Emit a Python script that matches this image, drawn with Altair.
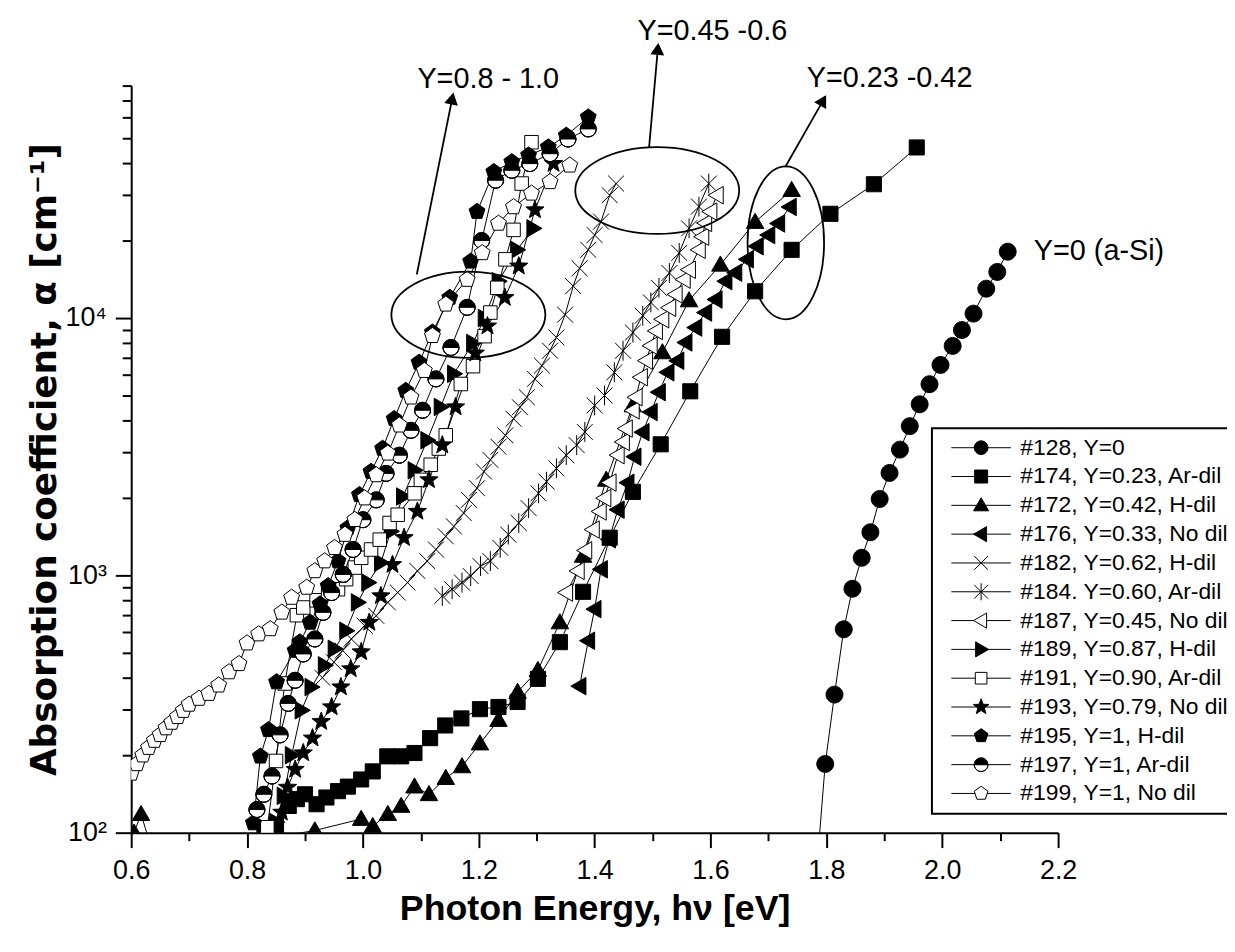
import math
import altair as alt
import pandas as pd

FONT = "Liberation Sans"

# ---------------- data ----------------
LABELS = ["#128, Y=0", "#174, Y=0.23, Ar-dil", "#172, Y=0.42, H-dil", "#176, Y=0.33, No dil",
          "#182, Y=0.62, H-dil", "#184. Y=0.60, Ar-dil", "#187, Y=0.45, No dil",
          "#189, Y=0.87, H-dil", "#191, Y=0.90, Ar-dil", "#193, Y=0.79, No dil",
          "#195, Y=1, H-dil", "#197, Y=1, Ar-dil", "#199, Y=1, No dil"]

E128 = [1.785, 1.798, 1.814, 1.830, 1.845, 1.861, 1.876, 1.892, 1.909, 1.927, 1.944, 1.961, 1.978, 1.997, 2.018, 2.034, 2.054, 2.076, 2.095, 2.113]
A128 = [80, 185, 344, 617, 887, 1170, 1470, 1980, 2500, 3080, 3800, 4620, 5530, 6570, 7790, 8980, 10400, 13000, 15100, 18100]

E174 = [0.830, 0.850, 0.872, 0.886, 0.900, 0.920, 0.937, 0.957, 0.974, 0.997, 1.017, 1.042, 1.066, 1.089, 1.116, 1.142, 1.170, 1.202, 1.234, 1.267, 1.302, 1.340, 1.380, 1.426, 1.466, 1.514, 1.565, 1.620, 1.677, 1.740, 1.807, 1.882, 1.956]
A174 = [104, 107, 127, 135, 141, 129, 137, 145, 151, 161, 173, 198, 198, 204, 233, 261, 278, 302, 308, 322, 396, 550, 863, 1400, 2110, 3230, 5190, 8450, 12700, 18400, 25400, 33100, 46000]

E172 = [0.605, 0.617, 0.640, 0.917, 0.997, 1.017, 1.043, 1.066, 1.089, 1.114, 1.143, 1.171, 1.202, 1.234, 1.267, 1.302, 1.340, 1.380, 1.420, 1.466, 1.517, 1.563, 1.617, 1.677, 1.740]
A172 = [100, 118, 80, 102, 113, 106, 118, 127, 151, 141, 163, 181, 222, 274, 352, 428, 656, 1190, 2350, 4570, 7350, 11700, 16100, 23600, 31400]

E176 = [1.374, 1.389, 1.400, 1.411, 1.425, 1.440, 1.457, 1.469, 1.483, 1.497, 1.511, 1.526, 1.543, 1.557, 1.574, 1.591, 1.609, 1.626, 1.643, 1.663, 1.680, 1.700, 1.717, 1.737]
A176 = [371, 557, 739, 1055, 1380, 1800, 2290, 2890, 3600, 4310, 5150, 6150, 6820, 8030, 9180, 10500, 11800, 13900, 15000, 16900, 19000, 21000, 23300, 27000]

E182 = [0.930, 0.950, 0.965, 0.980, 1.003, 1.023, 1.043, 1.060, 1.077, 1.094, 1.111, 1.126, 1.143, 1.157, 1.174, 1.183, 1.197, 1.209, 1.220, 1.234, 1.246, 1.260, 1.271, 1.283, 1.297, 1.309, 1.323, 1.334, 1.349, 1.363, 1.374, 1.389, 1.400, 1.411, 1.426, 1.437]
A182 = [400, 460, 510, 566, 637, 696, 785, 858, 937, 1040, 1136, 1260, 1418, 1550, 1746, 1965, 2180, 2530, 2810, 3160, 3500, 4060, 4500, 4920, 5800, 6530, 7460, 8400, 10300, 13300, 15600, 18400, 21000, 23700, 30000, 33300]

E184 = [1.137, 1.154, 1.171, 1.186, 1.203, 1.220, 1.237, 1.251, 1.269, 1.286, 1.303, 1.317, 1.334, 1.351, 1.369, 1.383, 1.400, 1.417, 1.434, 1.449, 1.466, 1.483, 1.497, 1.511, 1.529, 1.546, 1.563, 1.580, 1.597]
A184 = [832, 883, 937, 994, 1086, 1136, 1279, 1440, 1597, 1824, 2084, 2311, 2604, 2931, 3205, 3608, 4573, 5000, 6150, 7460, 8780, 10200, 11500, 13100, 14960, 17900, 22300, 27100, 33300]

E187 = [1.351, 1.371, 1.384, 1.397, 1.409, 1.417, 1.426, 1.440, 1.449, 1.454, 1.466, 1.471, 1.480, 1.489, 1.497, 1.506, 1.517, 1.529, 1.540, 1.554, 1.563, 1.580, 1.586, 1.591, 1.600, 1.611]
A187 = [857, 1040, 1250, 1506, 1771, 1995, 2293, 2931, 3300, 3718, 4375, 4920, 5885, 6825, 7800, 8910, 9890, 10960, 12350, 14100, 15400, 18400, 20700, 23400, 25900, 30000]

E189 = [0.850, 0.863, 0.877, 0.894, 0.911, 0.934, 0.951, 0.971, 0.991, 1.009, 1.031, 1.048, 1.069, 1.089, 1.111, 1.134, 1.157, 1.190, 1.210, 1.234, 1.266, 1.294]
A189 = [110, 139, 200, 299, 368, 447, 518, 609, 785, 937, 1120, 1483, 2024, 2560, 3350, 4510, 6070, 8000, 10000, 13900, 18400, 22300]

E191 = [0.835, 0.850, 0.865, 0.886, 0.897, 0.920, 0.940, 0.957, 0.971, 0.986, 0.997, 1.014, 1.029, 1.046, 1.060, 1.089, 1.100, 1.117, 1.131, 1.143, 1.169, 1.190, 1.210, 1.220, 1.232, 1.246, 1.260, 1.274, 1.291]
A191 = [105, 190, 380, 700, 750, 800, 850, 883, 966, 1072, 1170, 1260, 1376, 1597, 1720, 2084, 2350, 2690, 3110, 3500, 5540, 6500, 8500, 10500, 13100, 16900, 22000, 33300, 48200]

E193 = [0.860, 0.870, 0.883, 0.897, 0.913, 0.928, 0.946, 0.962, 0.979, 0.997, 1.011, 1.031, 1.051, 1.071, 1.094, 1.114, 1.137, 1.160, 1.194, 1.215, 1.245, 1.269, 1.297, 1.329]
A193 = [120, 150, 176, 204, 233, 270, 308, 368, 433, 504, 656, 832, 1100, 1400, 1771, 2350, 3205, 4510, 7300, 9300, 12000, 15900, 26300, 39800]

E195 = [0.811, 0.823, 0.837, 0.851, 0.883, 0.891, 0.909, 0.926, 0.940, 0.957, 0.974, 0.994, 1.014, 1.034, 1.054, 1.074, 1.097, 1.120, 1.150, 1.186, 1.197, 1.226, 1.257, 1.286, 1.320, 1.351, 1.389]
A195 = [109, 198, 251, 385, 510, 550, 656, 773, 910, 1136, 1527, 2055, 2530, 3110, 4060, 5220, 6720, 8800, 12000, 16600, 25900, 37000, 40400, 42900, 46100, 51200, 60300]

E197 = [0.817, 0.829, 0.843, 0.857, 0.871, 0.883, 0.897, 0.917, 0.931, 0.946, 0.966, 0.983, 1.000, 1.023, 1.040, 1.063, 1.083, 1.103, 1.126, 1.152, 1.180, 1.205, 1.229, 1.257, 1.288, 1.323, 1.354, 1.389]
A197 = [123, 141, 166, 240, 318, 391, 495, 566, 718, 857, 1008, 1260, 1645, 1965, 2490, 2930, 3660, 4380, 5800, 7680, 11000, 20000, 34300, 37500, 39800, 43500, 49600, 54300]

E199 = [0.600, 0.610, 0.620, 0.630, 0.640, 0.650, 0.660, 0.670, 0.680, 0.690, 0.700, 0.717, 0.734, 0.751, 0.769, 0.786, 0.800, 0.820, 0.840, 0.860, 0.877, 0.903, 0.917, 0.934, 0.951, 0.969, 0.986, 1.003, 1.023, 1.043, 1.063, 1.083, 1.106, 1.120, 1.143, 1.180, 1.206, 1.234, 1.260, 1.291, 1.323, 1.357]
A199 = [170, 185, 200, 214, 228, 240, 255, 268, 282, 298, 315, 332, 347, 374, 421, 453, 545, 591, 619, 718, 820, 897, 1040, 1136, 1280, 1440, 1645, 1995, 2455, 2980, 3830, 4920, 6240, 8530, 11300, 14100, 17900, 23300, 27000, 30500, 33800, 39200]

X_TICKS = [round(0.6 + 0.1 * i, 1) for i in range(17)]
Y_TICKS = [m * 10 ** p for p in (2, 3) for m in range(1, 10)] + [m * 10000 for m in range(1, 9)]

NOTE_TEXT = ["Y=0.8 - 1.0", "Y=0.45 -0.6", "Y=0.23 -0.42", "Y=0 (a-Si)"]
NOTE_E = [1.094, 1.474, 1.766, 2.158]
NOTE_A = [84700, 130000, 85900, 18200]

ARROW_ID = [1, 1, 2, 2, 3, 3]
ARROW_E = [1.093, 1.154, 1.494, 1.509, 1.729, 1.794]
ARROW_A = [14760, 71000, 46100, 110600, 38600, 69800]
HEAD_E = [1.154, 1.509, 1.794]
HEAD_A = [71000, 110600, 69800]
HEAD_ANGLE = [11.5, 4.9, 29.9]

ELL_E = [1.182, 1.508, 1.730]
ELL_A = [10300, 31300, 19600]

# ---------------- marker shapes ----------------
def fmt(v):
    return f"{v:.3f}"

def poly(points):
    return "M " + " L ".join(f"{fmt(x)} {fmt(y)}" for x, y in points) + " Z"

def regular(n, r, inner=None):
    pts = []
    k = n * 2 if inner else n
    for i in range(k):
        a = math.radians(-90 + 360.0 * i / k)
        rr = r if (not inner or i % 2 == 0) else inner
        pts.append((rr * math.cos(a), rr * math.sin(a)))
    return poly(pts)

CIRCLE = "M 1 0 A 1 1 0 1 1 -1 0 A 1 1 0 1 1 1 0 Z"
SQUARE = poly([(-0.95, -0.95), (0.95, -0.95), (0.95, 0.95), (-0.95, 0.95)])
OSQUARE = poly([(-0.85, -0.85), (0.85, -0.85), (0.85, 0.85), (-0.85, 0.85)])
TRI_UP = poly([(0, -1.1), (1.1, 0.8), (-1.1, 0.8)])
TRI_LEFT = poly([(-1.1, 0), (0.8, -1.1), (0.8, 1.1)])
TRI_RIGHT = poly([(1.1, 0), (-0.8, -1.1), (-0.8, 1.1)])
CROSS = "M -1 -1 L 1 1 M -1 1 L 1 -1"
ASTER = CROSS + " M 0 -1.25 L 0 1.25"
STAR = regular(5, 1.2, 0.5)
PENT = regular(5, 1.05)
HALF = CIRCLE + " M -1 0 A 1 1 0 0 0 1 0 Z"

# per series: marker path, fill, filled?, gap for legend line (None = line through)
STYLE = [
    (CIRCLE, "black", True, None),
    (SQUARE, "black", True, None),
    (TRI_UP, "black", True, None),
    (TRI_LEFT, "black", True, None),
    (CROSS, "white", False, None),
    (ASTER, "white", False, None),
    (TRI_LEFT, "white", True, (-1.1, 0.8)),
    (TRI_RIGHT, "black", True, None),
    (OSQUARE, "white", True, (-0.85, 0.85)),
    (STAR, "black", True, None),
    (PENT, "black", True, None),
    (HALF, "black", True, None),
    (PENT, "white", True, (-0.89, 0.89)),
]

def legend_path(style):
    path, fill, filled, gap = style
    L = 4.35
    if gap is None:
        line = f"M {-L} 0 L {L} 0 "
    else:
        line = f"M {-L} 0 L {gap[0]} 0 M {gap[1]} 0 L {L} 0 "
    return line + path

SERIES_E = [E128, E174, E172, E176, E182, E184, E187, E189, E191, E193, E195, E197, E199]
SERIES_A = [A128, A174, A172, A176, A182, A184, A187, A189, A191, A193, A195, A197, A199]

rows = []
for lab, es, as_ in zip(LABELS, SERIES_E, SERIES_A):
    for e, a in zip(es, as_):
        rows.append({"series": lab, "E": e, "A": a})
df = pd.DataFrame(rows)

# ---------------- encodings ----------------
x_axis = alt.Axis(
    values=X_TICKS,
    labelExpr="(round(datum.value*10) % 2 == 0) ? format(datum.value, '.1f') : ''",
    tickSize={"condition": {"test": "round(datum.value*10) % 2 == 0", "value": 15}, "value": 8},
    tickWidth=2, domainWidth=2, domainColor="black", tickColor="black",
    labelColor="black", labelFont=FONT, labelFontSize=27, labelPadding=10,
    labelOverlap=False, labelFlush=False, grid=False,
    titleFont=FONT, titleFontSize=36, titleFontWeight="bold", titleColor="black", titlePadding=8,
)
y_axis = alt.Axis(
    values=Y_TICKS,
    labelExpr="datum.value == 100 ? '10\u00b2' : datum.value == 1000 ? '10\u00b3' : datum.value == 10000 ? '10\u2074' : ''",
    tickSize={"condition": {"test": "datum.value == 100 || datum.value == 1000 || datum.value == 10000", "value": 16}, "value": 9},
    tickWidth=2, domainWidth=2, domainColor="black", tickColor="black",
    labelColor="black", labelFont=FONT, labelFontSize=27, labelPadding=9,
    labelOverlap=False, labelFlush=False, grid=False,
    titleFont="DejaVu Sans", titleFontSize=36, titleFontWeight="bold", titleColor="black", titlePadding=2,
)
X = alt.X("E:Q", scale=alt.Scale(domain=[0.6, 2.2], nice=False, zero=False), axis=x_axis,
          title="Photon Energy, h\u03bd [eV]")
Y = alt.Y("A:Q", scale=alt.Scale(type="log", domain=[100, 80000], nice=False), axis=y_axis,
          title="Absorption coefficient, \u03b1 [cm\u207b\u00b9]")

layers = []
layers.append(
    alt.Chart(df).mark_line(color="black", strokeWidth=1, clip=True).encode(x=X, y=Y, detail="series:N")
)

SIZE = 256
for lab, st in zip(LABELS, STYLE):
    path, fill, filled, gap = st
    sub = df[df.series == lab]
    size = 289 if path is CIRCLE else SIZE
    if path is HALF:
        layers.append(alt.Chart(sub).mark_point(shape=CIRCLE, filled=True, fill="white", stroke="black",
                                                strokeWidth=1, size=size, opacity=1, clip=True).encode(x=X, y=Y))
    if filled:
        mk = alt.Chart(sub).mark_point(shape=path, filled=True, fill=fill, stroke="black", strokeWidth=1,
                                       size=size, opacity=1, clip=True)
    else:
        mk = alt.Chart(sub).mark_point(shape=path, filled=False, stroke="black", strokeWidth=1,
                                       size=size, opacity=1, clip=True)
    layers.append(mk.encode(x=X, y=Y))

# legend (drawn from the series table; its points lie outside the clipped view)
leg_df = pd.DataFrame({"label": LABELS, "E": [0.3] * len(LABELS), "A": [1000] * len(LABELS)})
legend = alt.Legend(title=None, orient="none", legendX=806, legendY=345, direction="vertical",
                    symbolSize=190, symbolStrokeWidth=1, symbolStrokeColor="black",
                    labelFont=FONT, labelFontSize=23, labelColor="black", labelLimit=0,
                    strokeColor="black", fillColor="white", padding=8, rowPadding=5,
                    symbolOffset=30, labelOffset=28)
layers.append(
    alt.Chart(leg_df).mark_point(filled=True, strokeWidth=1, opacity=1, clip=True).encode(
        x=X, y=Y,
        shape=alt.Shape("label:N", scale=alt.Scale(domain=LABELS, range=[legend_path(s) for s in STYLE]), legend=legend),
        fill=alt.Fill("label:N", scale=alt.Scale(domain=LABELS, range=[s[1] for s in STYLE]), legend=legend),
        stroke=alt.Stroke("label:N", scale=alt.Scale(domain=LABELS, range=["black"] * len(LABELS)), legend=legend),
    )
)

# ellipses
def ellipse_path(rx, ry):
    k = 0.5523
    return (f"M {rx} 0 C {rx} {fmt(k*ry)} {fmt(k*rx)} {ry} 0 {ry} "
            f"C {fmt(-k*rx)} {ry} {-rx} {fmt(k*ry)} {-rx} 0 "
            f"C {-rx} {fmt(-k*ry)} {fmt(-k*rx)} {-ry} 0 {-ry} "
            f"C {fmt(k*rx)} {-ry} {rx} {fmt(-k*ry)} {rx} 0 Z")

ELL_SHAPES = [(1, 0.56, 155.0 ** 2), (1, 0.53, 165.0 ** 2), (0.5, 1, 154.0 ** 2)]
for e, a, (rx, ry, sz) in zip(ELL_E, ELL_A, ELL_SHAPES):
    d = pd.DataFrame({"E": [e], "A": [a]})
    layers.append(alt.Chart(d).mark_point(shape=ellipse_path(rx, ry), filled=False, stroke="black",
                                          strokeWidth=1.8, size=sz, opacity=1, clip=False).encode(x=X, y=Y))

# arrows
arr_df = pd.DataFrame({"id": ARROW_ID, "E": ARROW_E, "A": ARROW_A})
layers.append(alt.Chart(arr_df).mark_line(color="black", strokeWidth=1.8, clip=False).encode(
    x=X, y=Y, detail="id:N"))
head_df = pd.DataFrame({"E": HEAD_E, "A": HEAD_A, "ang": HEAD_ANGLE})
layers.append(alt.Chart(head_df).mark_point(shape="triangle-up", filled=True, fill="black", stroke="black",
                                            size=110, opacity=1, clip=False).encode(
    x=X, y=Y, angle=alt.Angle("ang:Q", scale=None)))

# texts
txt_df = pd.DataFrame({"E": NOTE_E, "A": NOTE_A, "t": NOTE_TEXT})
layers.append(alt.Chart(txt_df).mark_text(align="left", baseline="middle", font=FONT, fontSize=29,
                                          color="black", clip=False).encode(x=X, y=Y, text="t:N"))

chart = alt.layer(*layers).properties(
    width=933, height=752,
    autosize=alt.AutoSizeParams(type="none"),
    padding={"left": 124, "top": 75, "right": 170, "bottom": 117},
).configure_view(stroke=None).configure_legend(strokeWidth=2)

chart.save("out.html", embed_options={"renderer": "svg", "actions": False})
